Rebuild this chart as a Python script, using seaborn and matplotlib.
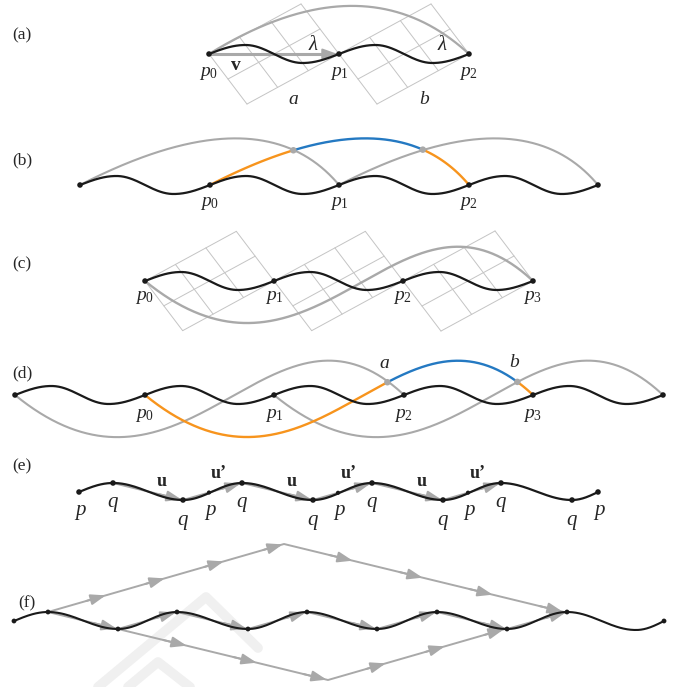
import numpy as np
import matplotlib
matplotlib.use("Agg")
import matplotlib.pyplot as plt
import seaborn as sns

# node positions (pixels, y grows downward)
a_x = [209, 339, 469]
a_y = 54
b_x = [80, 210, 339, 469, 598]
b_y = 185
c_x = [145, 274, 403, 533]
c_y = 281
d_x = [15, 145, 274, 404, 533, 663]
d_y = 395
# (e) wave: end p, alternating q peaks / troughs, end p
e_x = [79, 113, 183, 242, 313, 372, 443, 501, 572, 598]
e_y = [492, 483, 500, 483, 500, 483, 500, 483, 500, 492]
e_p_mid = [209, 338, 468]
# (f) wave nodes
f_x = [14, 48, 118, 177, 248, 307, 377, 437, 507, 567, 636, 664]
f_y = [621, 612, 629, 612, 629, 612, 629, 612, 629, 612, 630, 621]
u_vec = [70, 17]
u_prime = [59, -17]
top_path = ["u'"] * 4 + ["u"] * 4
bottom_path = ["u"] * 3 + ["u'"] * 3
# faint background mark behind (f)
mark_outer_x, mark_outer_y = [98, 206, 258], [687, 597, 648]
mark_inner_x, mark_inner_y = [128, 158, 190], [687, 662, 687]

BLACK = "#1a1a1a"
GRAY = "#a9a9a9"
LIGHT = "#c4c4c4"
ORANGE = "#f7941d"
BLUE = "#2479c2"

sns.set_style("white")
plt.rcParams["font.family"] = ["Liberation Serif", "DejaVu Serif"]
plt.rcParams["mathtext.fontset"] = "custom"
plt.rcParams["mathtext.it"] = "Liberation Serif:italic"
plt.rcParams["mathtext.rm"] = "Liberation Serif"

fig = plt.figure(figsize=(6.73, 6.87), dpi=100)
ax = fig.add_axes([0, 0, 1, 1])


def line(x, y, color=BLACK, lw=1.5, z=2):
    sns.lineplot(x=np.asarray(x, float), y=np.asarray(y, float), sort=False,
                 estimator=None, color=color, linewidth=lw, ax=ax, zorder=z)


def dots(x, y, color=BLACK, s=16, z=6):
    sns.scatterplot(x=np.atleast_1d(x), y=np.atleast_1d(y), color=color, s=s,
                    edgecolor="none", ax=ax, zorder=z, legend=False)


def wave(xs, ys, kinds, n=40):
    # kinds: 'z' zero crossing, 'e' extreme
    X, Y = [], []
    for i in range(len(xs) - 1):
        s = np.linspace(0, 1, n)
        x = xs[i] + (xs[i + 1] - xs[i]) * s
        k = kinds[i] + kinds[i + 1]
        if k == "ze":
            f = np.sin(np.pi / 2 * s)
        elif k == "ez":
            f = 1 - np.cos(np.pi / 2 * s)
        else:
            f = (1 - np.cos(np.pi * s)) / 2
        X.append(x)
        Y.append(ys[i] + (ys[i + 1] - ys[i]) * f)
    return np.concatenate(X), np.concatenate(Y)


def node_wave(xs, y0, amp=9):
    kx, ky, kk = [xs[0]], [y0], ["z"]
    for x0, x1 in zip(xs[:-1], xs[1:]):
        L = x1 - x0
        kx += [x0 + 0.28 * L, x0 + 0.72 * L, x1]
        ky += [y0 - amp, y0 + amp, y0]
        kk += ["e", "e", "z"]
    return wave(kx, ky, kk)


def arc(x0, x1, y0, skew=0.6, rise=0.37, n=300):
    S = x1 - x0
    cx, cy = x0 + skew * S, y0 - rise * S
    t = np.linspace(0, 1, n)
    return ((1 - t) ** 2 * x0 + 2 * (1 - t) * t * cx + t ** 2 * x1,
            (1 - t) ** 2 * y0 + 2 * (1 - t) * t * cy + t ** 2 * y0)


def s_curve(x0, x1, y0, n=400):
    S = x1 - x0
    c1 = (x0 + 0.44 * S, y0 + 0.36 * S)
    c2 = (x0 + 0.66 * S, y0 - 0.32 * S)
    t = np.linspace(0, 1, n)
    b0, b1, b2, b3 = (1 - t) ** 3, 3 * (1 - t) ** 2 * t, 3 * (1 - t) * t ** 2, t ** 3
    return (b0 * x0 + b1 * c1[0] + b2 * c2[0] + b3 * x1,
            b0 * y0 + b1 * c1[1] + b2 * c2[1] + b3 * y0)


def crossing(xa, ya, xb, yb, y0):
    lo, hi = max(xa.min(), xb.min()), min(xa.max(), xb.max())
    m = (xa > lo) & (xa < hi)
    xs, d = xa[m], ya[m] - np.interp(xa[m], xb, yb)
    ys = ya[m]
    idx = np.where((np.sign(d[:-1]) != np.sign(d[1:])) & (ys[:-1] < y0))[0][0]
    return xs[idx], ys[idx]


def grid(x0, x1, y0, nu=3, nv=2):
    L = x1 - x0
    u = np.array([0.708 * L, -0.385 * L])
    v = np.array([L, 0.0]) - u
    o = np.array([x0, y0])
    for i in range(nu + 1):
        p = o + u * i / nu
        line([p[0], p[0] + v[0]], [p[1], p[1] + v[1]], LIGHT, 0.7, 1)
    for j in range(nv + 1):
        p = o + v * j / nv
        line([p[0], p[0] + u[0]], [p[1], p[1] + u[1]], LIGHT, 0.7, 1)


def plabel(x, y, i, dy=19):
    ax.text(x, y + dy, r"$p_{\mathit{%d}}$" % i, ha="center", va="center", fontsize=14)


def it(x, y, s, size=14):
    ax.text(x, y, s, ha="center", va="center", fontsize=size, style="italic")


def head(p0, p1, ms=12, back=0.35):
    # arrowhead sitting on the end of segment p0 -> p1
    p0, p1 = np.asarray(p0, float), np.asarray(p1, float)
    start = p1 - back * (p1 - p0)
    ax.annotate("", xy=tuple(p1), xytext=tuple(start),
                arrowprops=dict(arrowstyle="-|>,head_length=0.75,head_width=0.27",
                                color=GRAY, lw=1.4, mutation_scale=ms,
                                shrinkA=0, shrinkB=1), zorder=3)


def path_arrows(px, py, lw=1.4):
    line(px, py, GRAY, lw, 3)
    for i in range(len(px) - 1):
        head((px[i], py[i]), (px[i + 1], py[i + 1]))


# faint background mark
line(mark_outer_x, mark_outer_y, "#f0f0f0", 7, 0)
line(mark_inner_x, mark_inner_y, "#f0f0f0", 7, 0)

# panel letters
for lab, yy in zip("abcdef", [35, 160, 264, 373, 466, 603]):
    ax.text(22 if lab != "f" else 27, yy, "(%s)" % lab, ha="center", va="center", fontsize=12.5)

# ---- (a)
for x0, x1 in zip(a_x[:-1], a_x[1:]):
    grid(x0, x1, a_y)
line(*arc(a_x[0], a_x[2], a_y), GRAY, 1.6, 2)
path_arrows([a_x[0], a_x[1]], [a_y, a_y], lw=2.2)
line(*node_wave(a_x, a_y), BLACK, 1.6, 4)
dots(a_x, [a_y] * 3)
for i, x in enumerate(a_x):
    plabel(x, a_y, i)
ax.text(236, 66, "v", ha="center", va="center", fontsize=14, fontweight="bold")
it(313, 46, "λ", 15)
it(442, 46, "λ", 15)
it(293, 100, "a")
it(424, 100, "b")

# ---- (b)
arcs_b = [arc(b_x[i], b_x[i + 2], b_y, 0.7, 0.36) for i in range(3)]
line(*arcs_b[0], GRAY, 1.5)
line(*arcs_b[2], GRAY, 1.5)
cx1, cy1 = crossing(*arcs_b[1], *arcs_b[0], b_y)
cx2, cy2 = crossing(*arcs_b[1], *arcs_b[2], b_y)
bx, by = arcs_b[1]
line(bx[bx <= cx1], by[bx <= cx1], ORANGE, 1.7, 3)
mid = (bx >= cx1) & (bx <= cx2)
line(bx[mid], by[mid], BLUE, 1.7, 3)
line(bx[bx >= cx2], by[bx >= cx2], ORANGE, 1.7, 3)
dots([cx1, cx2], [cy1, cy2], GRAY, 22)
line(*node_wave(b_x, b_y), BLACK, 1.6, 4)
dots(b_x, [b_y] * 5)
for i, x in enumerate(b_x[1:4]):
    plabel(x, b_y, i)

# ---- (c)
for x0, x1 in zip(c_x[:-1], c_x[1:]):
    grid(x0, x1, c_y)
line(*s_curve(c_x[0], c_x[3], c_y), GRAY, 1.7, 2)
line(*node_wave(c_x, c_y), BLACK, 1.6, 4)
dots(c_x, [c_y] * 4)
for i, x in enumerate(c_x):
    plabel(x, c_y, i, 17)

# ---- (d)
g1 = s_curve(d_x[0], d_x[3], d_y)
g3 = s_curve(d_x[2], d_x[5], d_y)
o2 = s_curve(d_x[1], d_x[4], d_y)
line(*g1, GRAY, 1.5)
line(*g3, GRAY, 1.5)
ax_, ay_ = crossing(*o2, *g1, d_y)
bx_, by_ = crossing(*o2, *g3, d_y)
ox, oy = o2
line(ox[ox <= ax_], oy[ox <= ax_], ORANGE, 1.7, 3)
mid = (ox >= ax_) & (ox <= bx_)
line(ox[mid], oy[mid], BLUE, 1.7, 3)
line(ox[ox >= bx_], oy[ox >= bx_], ORANGE, 1.7, 3)
dots([ax_, bx_], [ay_, by_], GRAY, 22)
line(*node_wave(d_x, d_y), BLACK, 1.6, 4)
dots(d_x, [d_y] * 6)
for i, x in enumerate(d_x[1:5]):
    plabel(x, d_y, i, 21)
it(ax_ - 3, ay_ - 19, "a")
it(bx_ - 3, by_ - 19, "b")

# ---- (e)
kinds_e = ["z"] + ["e"] * 8 + ["z"]
line(*wave(e_x, e_y, kinds_e), BLACK, 1.6, 4)
path_arrows(e_x[1:8], e_y[1:8])
for i in range(1, 7):
    mx = (e_x[i] + e_x[i + 1]) / 2
    if e_y[i] < e_y[i + 1]:
        ax.text(mx + 14, 481, "u", ha="center", va="center", fontsize=13, fontweight="bold")
    else:
        ax.text(mx + 6, 473, "u\u2019", ha="center", va="center", fontsize=13, fontweight="bold")
dots(e_x, e_y, BLACK, 16)
dots(e_p_mid, np.interp(e_p_mid, e_x, e_y), BLACK, 9)
for x in [e_x[0]] + e_p_mid + [e_x[-1]]:
    it(x + 1, 510, "p", 15)
for x, y in zip(e_x[1:-1], e_y[1:-1]):
    it(x, y + 20, "q", 15)

# ---- (f)
kinds_f = ["z"] + ["e"] * 10 + ["z"]
line(*wave(f_x, f_y, kinds_f), BLACK, 1.5, 4)
path_arrows(f_x[1:10], f_y[1:10])
steps = {"u": u_vec, "u'": u_prime}
for i0, path in [(1, top_path), (2, bottom_path)]:
    pts = np.cumsum([[f_x[i0], f_y[i0]]] + [steps[k] for k in path], axis=0)
    path_arrows(pts[:, 0], pts[:, 1])
dots(f_x[:10] + [f_x[-1]], f_y[:10] + [f_y[-1]], BLACK, 12)

ax.set_xlim(0, 673)
ax.set_ylim(687, 0)
ax.axis("off")
fig.savefig("out.png", dpi=100)
